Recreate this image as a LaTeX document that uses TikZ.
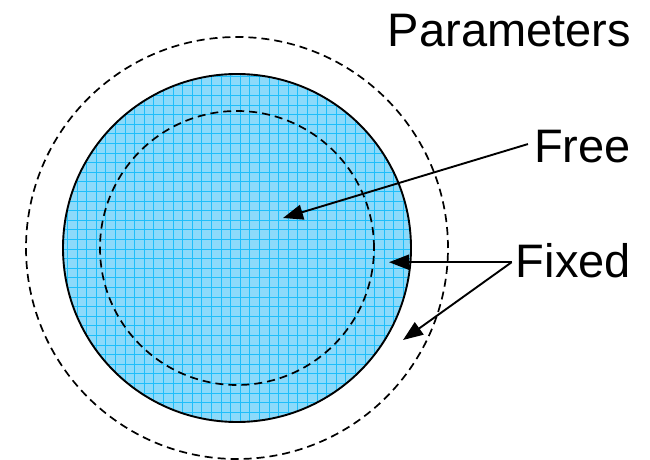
\documentclass[tikz,border=0pt]{standalone}
\usepackage{fontspec}
\setmainfont{Liberation Sans}
\usetikzlibrary{arrows.meta}
\definecolor{paramblue}{RGB}{140,218,250}
\definecolor{gridblue}{RGB}{30,190,250}
\begin{document}
\begin{tikzpicture}[x=1pt, y=1pt, >={Triangle[length=20pt,width=15pt]},
    every node/.style={font=\fontsize{47}{56}\selectfont, inner sep=0pt},
    ring/.style={line width=1.7pt, dash pattern=on 8pt off 5pt}]
  \useasboundingbox (0,0) rectangle (650,460);
  \coordinate (c) at (237,212);
  % parameter set with grid fill
  \begin{scope}
    \clip (c) circle (174);
    \fill[paramblue] (c) circle (174);
    \draw[gridblue, line width=0.5pt, step=9.6pt] (40,10) grid (440,410);
  \end{scope}
  \draw[line width=1.9pt] (c) circle (174);
  \draw[ring] (c) circle (137);
  \draw[ring] (c) circle (211);
  % labels
  \node[anchor=base east] (params) at (631,413) {Parameters};
  \node[anchor=base east] (free) at (631,297) {Free};
  \node[anchor=base east] (fixed) at (631,182) {Fixed};
  \coordinate (freetip) at (283,242);
  \coordinate (fork) at ([xshift=-4pt,yshift=-1pt]fixed.west);
  \coordinate (innertip) at ([xshift=152pt]fork -| c);
  \coordinate (outertip) at (403,120);
  \draw[->, line width=1.9pt] ([xshift=-6pt,yshift=3pt]free.west) -- (freetip);
  \draw[->, line width=1.9pt] (fork) -- (innertip);
  \draw[->, line width=1.9pt] (fork) -- (outertip);
\end{tikzpicture}
\end{document}
